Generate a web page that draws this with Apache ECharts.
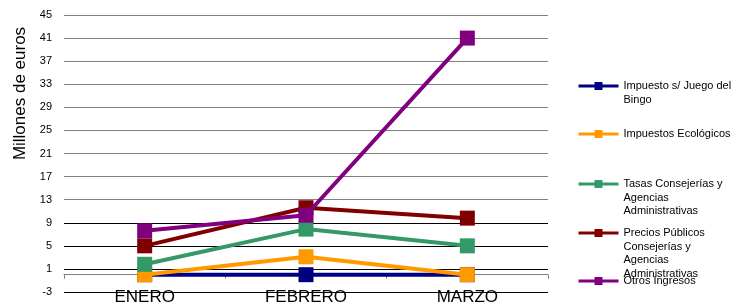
<!DOCTYPE html>
<html>
<head>
<meta charset="utf-8">
<script src="https://cdn.jsdelivr.net/npm/echarts@6/dist/echarts.min.js"></script>
<style>
html, body { margin: 0; padding: 0; background: #fff; }
#chart { width: 733px; height: 302px; }
</style>
</head>
<body>
<div id="chart"></div>
<script>
var months = ['ENERO', 'FEBRERO', 'MARZO'];
var seriesNames = [
    'Impuesto s/ Juego del Bingo',
    'Impuestos Ecológicos',
    'Tasas Consejerías y Agencias Administrativas',
    'Precios Públicos Consejerías y Agencias Administrativas',
    'Otros Ingresos'
];
// texto de la leyenda, partido como en el original
var legendLines = [
    ['Impuesto s/ Juego del', 'Bingo'],
    ['Impuestos Ecológicos'],
    ['Tasas Consejerías y', 'Agencias', 'Administrativas'],
    ['Precios Públicos', 'Consejerías y', 'Agencias', 'Administrativas'],
    ['Otros Ingresos']
];
var bingo = [0, 0, 0];
var ecologicos = [0, 3.1, 0];
var tasas = [1.8, 7.9, 5.0];
var precios = [5.0, 11.6, 9.8];
var otros = [7.6, 10.3, 41.0];
var colors = ['#000080', '#FF9900', '#339966', '#800000', '#800080'];
var legendY = [81, 129, 179, 228, 276];

var chart = echarts.init(document.getElementById('chart'));

var allData = [bingo, ecologicos, tasas, precios, otros];
var series = [];
var legends = [];
var lh = 13.5;
for (var i = 0; i < allData.length; i++) {
    series.push({
        name: seriesNames[i],
        type: 'line',
        data: allData[i],
        symbol: 'rect',
        symbolSize: 15,
        color: colors[i],
        lineStyle: {width: 4, color: colors[i]},
        itemStyle: {color: colors[i]},
        emphasis: {disabled: true},
        z: 2 + i
    });
    var n = legendLines[i].length;
    legends.push({
        data: [seriesNames[i]],
        left: 572,
        top: legendY[i] - (2 * n - 1) * lh / 2,
        itemWidth: 40,
        itemHeight: 10,
        itemGap: 5,
        selectedMode: false,
        lineStyle: {width: 3},
        textStyle: {fontSize: 11, color: '#000', fontFamily: 'Liberation Sans, Arial, sans-serif', lineHeight: lh},
        formatter: (function (lines) {
            return function () {
                var pad = '';
                for (var k = 1; k < lines.length; k++) pad += '\n';
                return pad + lines.join('\n');
            };
        })(legendLines[i])
    });
}

chart.setOption({
    animation: false,
    textStyle: {fontFamily: 'Liberation Sans, Arial, sans-serif'},
    grid: {left: 64, right: 185, top: 15, bottom: 10, containLabel: false, outerBoundsMode: 'none'},
    legend: legends,
    xAxis: [{
        type: 'category',
        data: months,
        axisLine: {onZero: true, lineStyle: {color: '#808080', width: 1}},
        axisTick: {show: true, length: 4, lineStyle: {color: '#808080'}},
        axisLabel: {show: false}
    }, {
        type: 'category',
        data: months,
        position: 'bottom',
        axisLine: {show: false, onZero: false},
        axisTick: {show: false},
        axisLabel: {fontSize: 17, color: '#000', margin: -3}
    }],
    yAxis: {
        type: 'value',
        min: -3,
        max: 45,
        interval: 4,
        name: 'Millones de euros',
        nameLocation: 'middle',
        nameGap: 25,
        nameTextStyle: {fontSize: 17, color: '#000', padding: [0, 0, 0, 120]},
        axisLine: {show: false},
        axisTick: {show: false},
        axisLabel: {fontSize: 11, color: '#000', margin: 12},
        splitLine: {
            lineStyle: {
                width: 1,
                color: ['#000', '#000', '#000', '#000', '#808080', '#808080', '#808080',
                    '#808080', '#808080', '#808080', '#808080', '#808080', '#808080']
            }
        }
    },
    series: series
});

window.onresize = function () {
    chart.resize();
}
</script>
</body>
</html>
